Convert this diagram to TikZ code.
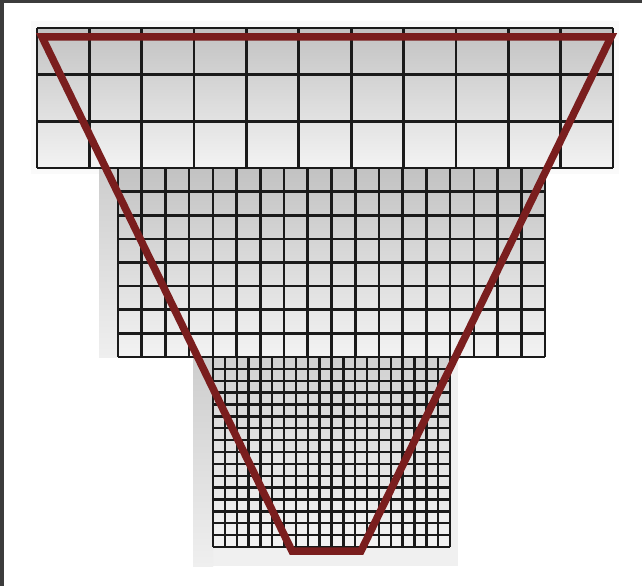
\documentclass[tikz,border=0pt]{standalone}
\definecolor{frame}{HTML}{3C3C3C}
\definecolor{gridc}{HTML}{1A1A1A}
\definecolor{redl}{HTML}{7A1E1E}
\definecolor{gtop}{HTML}{C2C2C2}
\definecolor{gbot}{HTML}{F3F3F3}
\definecolor{shtop}{HTML}{CDCDCD}
\definecolor{shbot}{HTML}{EFEFEF}
\tikzset{
  gridline/.style={draw=gridc, line width=2.8pt, line cap=square},
  fineline/.style={draw=gridc, line width=2.6pt, line cap=square},
  finerline/.style={draw=gridc, line width=2.4pt, line cap=square},
  funnel/.style={draw=redl, line width=7.5pt, line join=miter},
}
\begin{document}
\begin{tikzpicture}[x=1pt,y=-1pt]
\useasboundingbox (0,0) rectangle (642,586);
\fill[white] (0,0) rectangle (642,586);
% frame
\fill[frame] (0,0) rectangle (642,3.5);
\fill[frame] (0,0) rectangle (3.8,586);
% faint shadow around top grid
\fill[black!2] (31,21) rectangle (619,174);
% shadow behind middle grid
\shade[top color=shtop,bottom color=shbot] (99,168) rectangle (118,357);
% shadow behind bottom grid
\fill[black!6] (193,357) rectangle (458,566);
\shade[top color=shtop,bottom color=shbot] (193,357) rectangle (213,566);
% middle grid
\shade[top color=gtop,bottom color=gbot] (118,168) rectangle (545,357);
\foreach \i in {0,...,18} \draw[fineline] ({118+\i*23.722},168) -- ({118+\i*23.722},357);
\foreach \j in {0,...,8} \draw[fineline] (118,{168+\j*23.625}) -- (545,{168+\j*23.625});
% bottom grid
\shade[top color=black!18,bottom color=gbot] (213,357) rectangle (450,547);
\foreach \i in {0,...,20} \draw[finerline] ({213+\i*11.85},357) -- ({213+\i*11.85},547);
\foreach \j in {0,...,16} \draw[finerline] (213,{357+\j*11.875}) -- (450,{357+\j*11.875});
% top grid
\shade[top color=gtop,bottom color=gbot] (37,28) rectangle (613,168);
\foreach \i in {0,...,11} \draw[gridline] ({37+\i*52.364},28) -- ({37+\i*52.364},168);
\foreach \j in {0,...,3} \draw[gridline] (37,{28+\j*46.667}) -- (613,{28+\j*46.667});
% funnel outline
\draw[funnel] (42,37) -- (611,37) -- (361,551) -- (292,551) -- cycle;
\end{tikzpicture}
\end{document}
